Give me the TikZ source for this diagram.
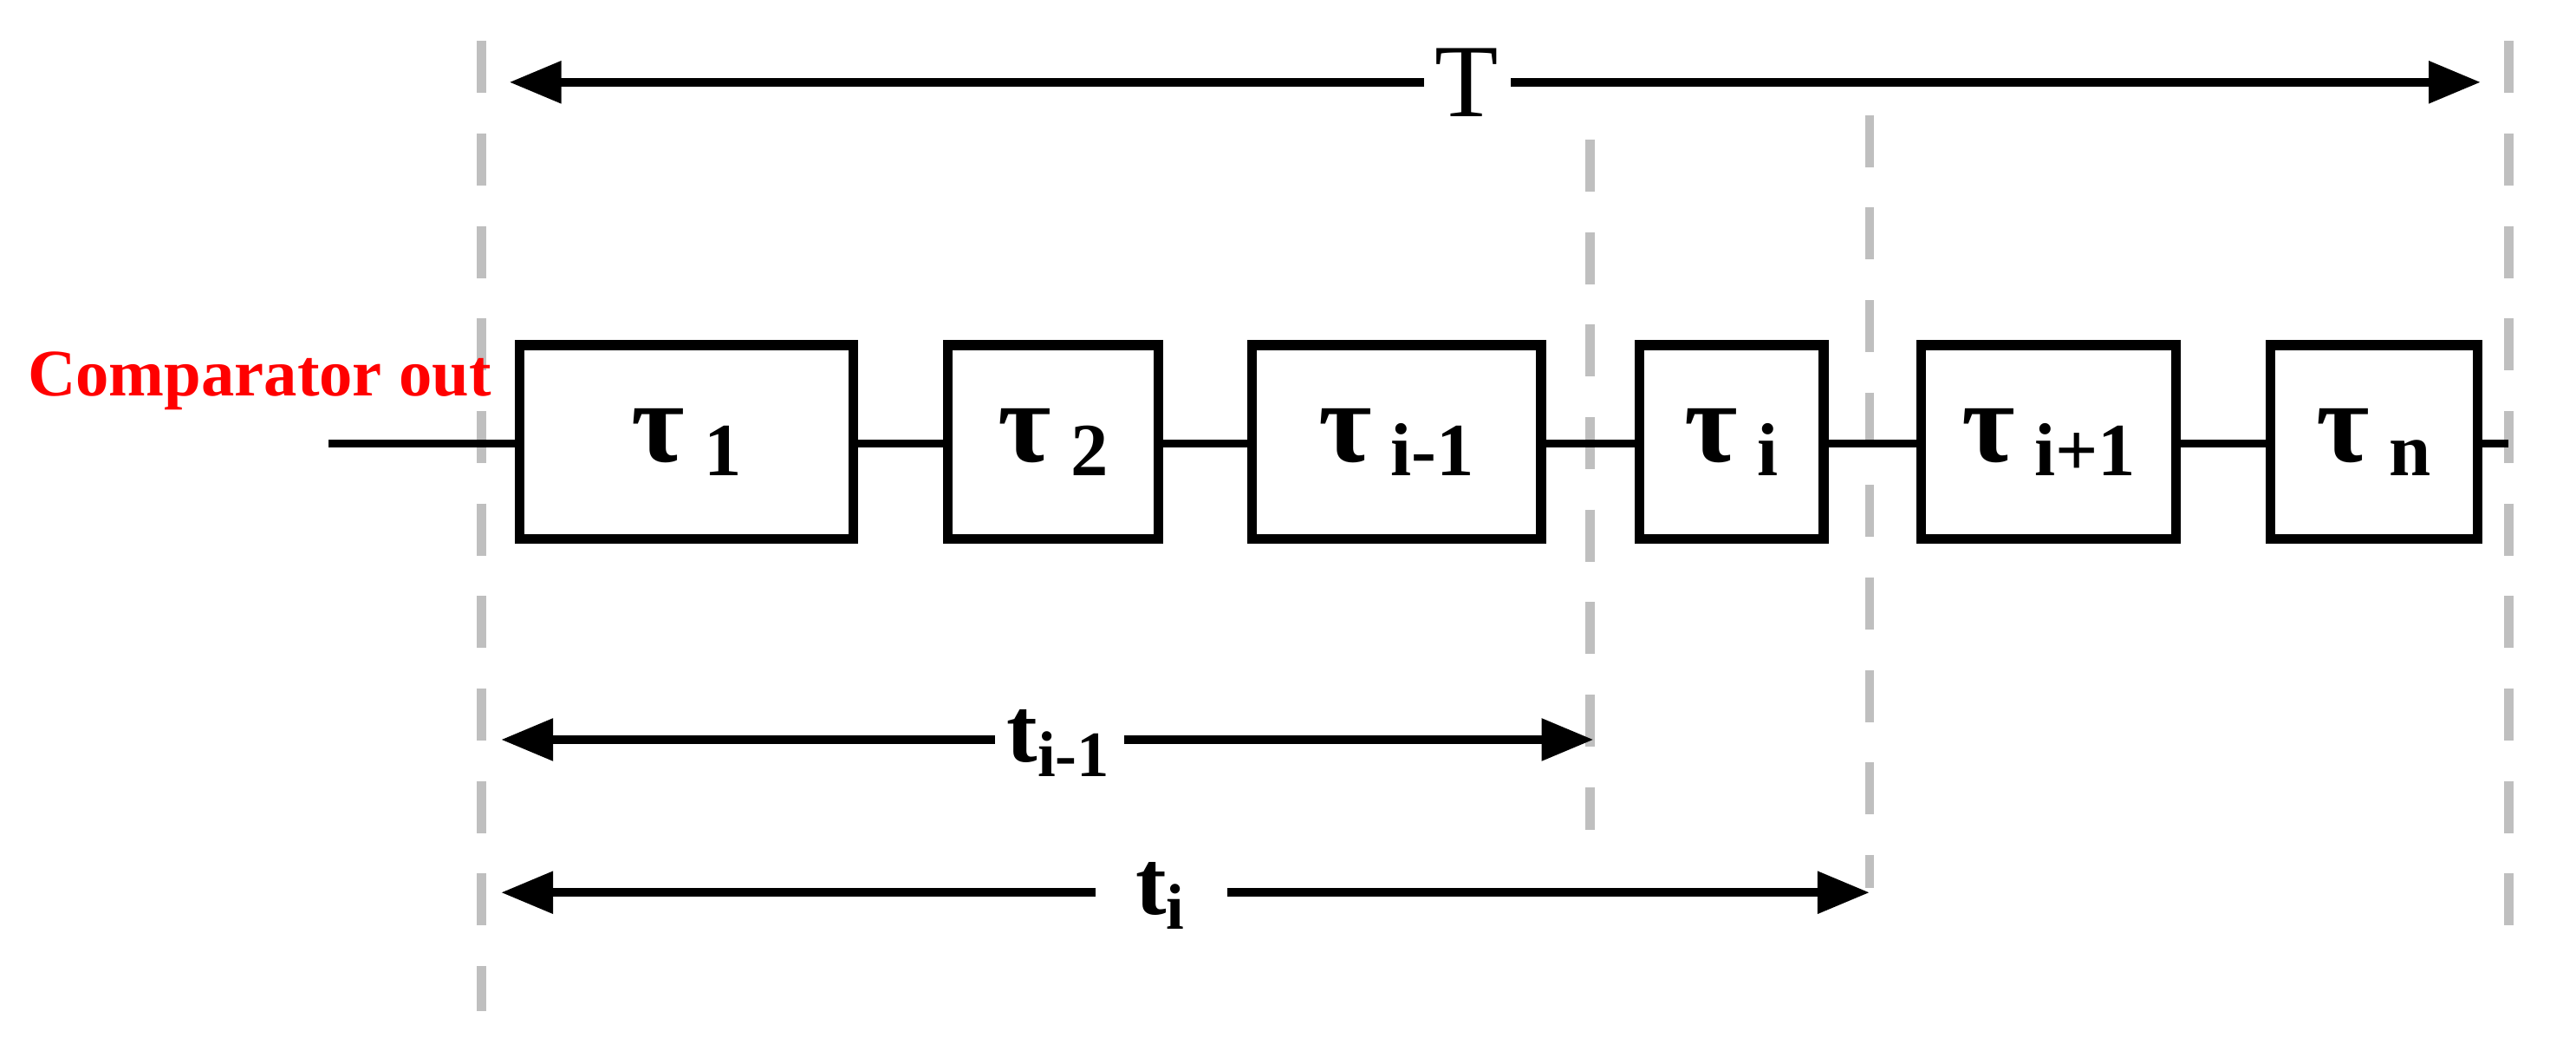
\documentclass[tikz,border=0pt]{standalone}
\usepackage{fontspec}
\setmainfont{Liberation Serif}
\usetikzlibrary{arrows.meta}
\begin{document}
\begin{tikzpicture}[x=0.01cm,y=-0.01cm,
  blk/.style={draw,line width=1.7pt,minimum height=1.18cm,inner sep=0pt,font=\fontsize{20}{22}\selectfont\bfseries},
  wire/.style={line width=1.4pt},
  guide/.style={draw=gray!50,line width=1.6pt,dash pattern=on 9pt off 7pt},
  dim/.style={line width=1.5pt,{Triangle[length=9pt,width=7pt]}-{Triangle[length=9pt,width=7pt]}},
  lbl/.style={fill=white,inner sep=2pt,font=\fontsize{16}{18}\selectfont\bfseries}]
\useasboundingbox (0,0) rectangle (1568,647);
\coordinate (g1a) at (293,25); \coordinate (g1b) at (293,615);
\coordinate (g2a) at (968,85); \coordinate (g2b) at (968,505);
\coordinate (g3a) at (1138,70); \coordinate (g3b) at (1138,540);
\coordinate (g4a) at (1527,25); \coordinate (g4b) at (1527,578);
\draw[guide] (g1a)--(g1b); \draw[guide] (g2a)--(g2b);
\draw[guide] (g3a)--(g3b); \draw[guide] (g4a)--(g4b);
\coordinate (s) at (200,270); \coordinate (e) at (1527,270);
\draw[wire] (s)--(e);
\node[blk,fill=white,minimum width=2.03cm] (b1) at (418,269) {τ\,\raisebox{-0.25ex}{\fontsize{13}{14}\selectfont 1}};
\node[blk,fill=white,minimum width=1.28cm] (b2) at (641,269) {τ\,\raisebox{-0.25ex}{\fontsize{13}{14}\selectfont 2}};
\node[blk,fill=white,minimum width=1.76cm] (b3) at (850,269) {τ\,\raisebox{-0.25ex}{\fontsize{13}{14}\selectfont i-1}};
\node[blk,fill=white,minimum width=1.12cm] (b4) at (1054,269) {τ\,\raisebox{-0.25ex}{\fontsize{13}{14}\selectfont i}};
\node[blk,fill=white,minimum width=1.55cm] (b5) at (1247,269) {τ\,\raisebox{-0.25ex}{\fontsize{13}{14}\selectfont i+1}};
\node[blk,fill=white,minimum width=1.26cm] (b6) at (1445,269) {τ\,\raisebox{-0.25ex}{\fontsize{13}{14}\selectfont n}};
\node[text=red,font=\fontsize{11.5}{13}\selectfont\bfseries] (cmp) at (158,232) {Comparator out};
\coordinate (Ta) at (310,50); \coordinate (Tb) at (1510,50);
\draw[dim] (Ta)--(Tb);
\node[lbl,font=\fontsize{18}{20}\selectfont] (T) at (893,50) {T};
\coordinate (t1a) at (305,450); \coordinate (t1b) at (970,450);
\draw[dim] (t1a)--(t1b);
\node[lbl] (t1) at (645,452) {t\textsubscript{i-1}};
\coordinate (t2a) at (305,543); \coordinate (t2b) at (1138,543);
\draw[dim] (t2a)--(t2b);
\node[lbl,minimum width=0.8cm] (t2) at (707,545) {t\textsubscript{i}};
\end{tikzpicture}
\end{document}
